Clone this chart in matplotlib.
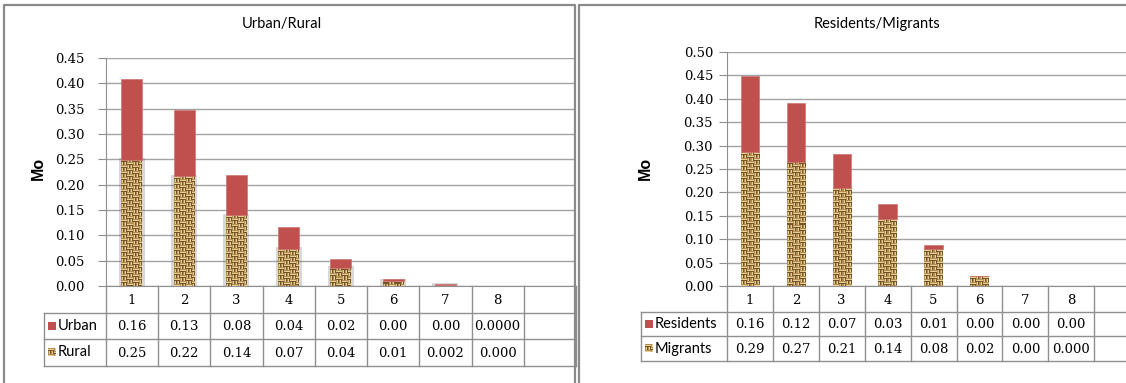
import numpy as np
import matplotlib
matplotlib.use("Agg")
import matplotlib.pyplot as plt
from matplotlib.patches import Rectangle

W, H = 1126, 383
RED = "#C0504D"
GRID = "#a3a3a3"
LINE = "#8f8f8f"

categories = ["1", "2", "3", "4", "5", "6", "7", "8", ""]

# Urban/Rural panel
urban = [0.160, 0.130, 0.080, 0.044, 0.018, 0.004, 0.001, 0.0]
urban_dec = [2, 2, 2, 2, 2, 2, 2, 4]
rural = [0.249, 0.217, 0.140, 0.073, 0.036, 0.010, 0.002, 0.0]
rural_dec = [2, 2, 2, 2, 2, 2, 3, 3]

# Residents/Migrants panel
residents = [0.163, 0.124, 0.073, 0.032, 0.009, 0.001, 0.0, 0.0]
residents_dec = [2, 2, 2, 2, 2, 2, 2, 2]
migrants = [0.286, 0.266, 0.209, 0.143, 0.078, 0.021, 0.0, 0.0]
migrants_dec = [2, 2, 2, 2, 2, 2, 2, 3]


def weave(h, w):
    """basket-weave burlap texture, h x w pixels"""
    yy, xx = np.mgrid[0:h, 0:w]
    cell = 3
    horiz = ((yy // cell) + (xx // (2 * cell))) % 2 == 0
    phase = np.where(horiz, yy % cell, xx % cell)
    cols = np.array([[0.70, 0.56, 0.33], [0.91, 0.81, 0.57], [0.45, 0.33, 0.16]])
    return cols[phase]


def panel(fig, ov, box, ymax, top, top_dec, bot, bot_dec, names, title, title_x,
          table_x0, rows_y, tick_pad, ylab_x, shadow):
    x0, slot, ytop, ybot = box
    ncat = len(categories)
    ax = fig.add_axes([x0 / W, 1 - ybot / H, ncat * slot / W, (ybot - ytop) / H])
    idx = np.arange(len(top))
    bw = 0.4
    ppu = (ybot - ytop) / ymax

    tex = ax.bar(idx, bot, bw, facecolor="none", edgecolor="none", zorder=3)
    for p, v in zip(tex.patches, bot):
        if v <= 0:
            continue
        bx = p.get_x()
        if shadow:
            ax.add_patch(Rectangle((bx - 0.05, 0), bw + 0.10, v + 0.003,
                                   color="0.4", alpha=0.25, lw=0, zorder=2.5))
        img = weave(max(1, int(round(v * ppu))), int(round(bw * slot)))
        im = ax.imshow(img, extent=(bx, bx + bw, 0, v), aspect="auto",
                       interpolation="nearest", zorder=3)
        im.set_clip_path(p)
    ax.bar(idx, top, bw, bottom=bot, color=RED, edgecolor="#cf7573", lw=0.5, zorder=4)

    ax.set_xlim(-0.5, ncat - 0.5)
    ax.set_ylim(0, ymax)
    ax.set_yticks(np.arange(0, ymax + 1e-9, 0.05))
    ax.set_yticklabels([f"{t:.2f}" for t in ax.get_yticks()], family="DejaVu Serif", fontsize=9.5)
    ax.tick_params(axis="y", length=6, color=LINE, pad=tick_pad)
    ax.set_xticks([])
    ax.yaxis.grid(True, color=GRID, lw=1)
    ax.set_axisbelow(True)
    for s in ("top", "right"):
        ax.spines[s].set_visible(False)
    for s in ("left", "bottom"):
        ax.spines[s].set_color(LINE)

    # data table under the axis
    r0, r1, r2, r3 = rows_y
    xe = x0 + ncat * slot
    for k in range(ncat + 1):
        xk = x0 + k * slot
        ov.plot([xk, xk], [r0, r3], color=LINE, lw=1)
    for yk in (r1, r2, r3):
        ov.plot([table_x0, xe], [yk, yk], color=LINE, lw=1)
    ov.plot([table_x0, table_x0], [r1, r3], color=LINE, lw=1)
    for k, c in enumerate(categories):
        ov.text(x0 + (k + 0.5) * slot, (r0 + r1) / 2 + 1, c, ha="center", va="center",
                family="DejaVu Serif", fontsize=9.5)
    for vals, decs, yc0, yc1 in ((top, top_dec, r1, r2), (bot, bot_dec, r2, r3)):
        for k, (v, d) in enumerate(zip(vals, decs)):
            ov.text(x0 + (k + 0.5) * slot, (yc0 + yc1) / 2 + 1, f"{v:.{d}f}",
                    ha="center", va="center", family="DejaVu Serif", fontsize=9.5)
    # legend keys
    ky = (r1 + r2) / 2
    ov.add_patch(Rectangle((table_x0 + 4, ky - 4), 8, 8, color=RED, lw=0))
    ov.text(table_x0 + 14, ky, names[0], ha="left", va="center", family="Lato", fontsize=10.5)
    ky = (r2 + r3) / 2
    ov.imshow(weave(8, 8), extent=(table_x0 + 4, table_x0 + 12, ky + 4, ky - 4),
              interpolation="nearest", zorder=3)
    ov.text(table_x0 + 14, ky, names[1], ha="left", va="center", family="Lato", fontsize=10.5)

    ov.text(title_x, 24, title, ha="center", va="center", family="Lato", fontsize=10.5)
    ov.text(ylab_x, 168, "Mo", rotation=90, ha="center", va="center",
            family="Liberation Sans", fontweight="bold", fontsize=11.5)


fig = plt.figure(figsize=(W / 100, H / 100), dpi=100)
ov = fig.add_axes([0, 0, 1, 1], zorder=5)
ov.set_xlim(0, W)
ov.set_ylim(H, 0)
ov.axis("off")

panel(fig, ov, (105.8, 52.25, 58, 286), 0.45, urban, urban_dec, rural, rural_dec,
      ["Urban", "Rural"], "Urban/Rural", 282, 44, (286, 313, 339, 366), 9, 38, True)
panel(fig, ov, (727.0, 45.9, 52, 286), 0.50, residents, residents_dec, migrants, migrants_dec,
      ["Residents", "Migrants"], "Residents/Migrants", 877, 641, (286, 312, 336, 361), 4, 645,
      False)

# chart frames
ov.plot([3.5, 3.5, 575, 575], [H, 4.5, 4.5, H], color="#8a8a8a", lw=1.6)
ov.plot([578.5, 578.5, W], [H, 4.5, 4.5], color="#8a8a8a", lw=1.6)
ov.set_xlim(0, W)
ov.set_ylim(H, 0)

fig.savefig("out.png", dpi=100)
